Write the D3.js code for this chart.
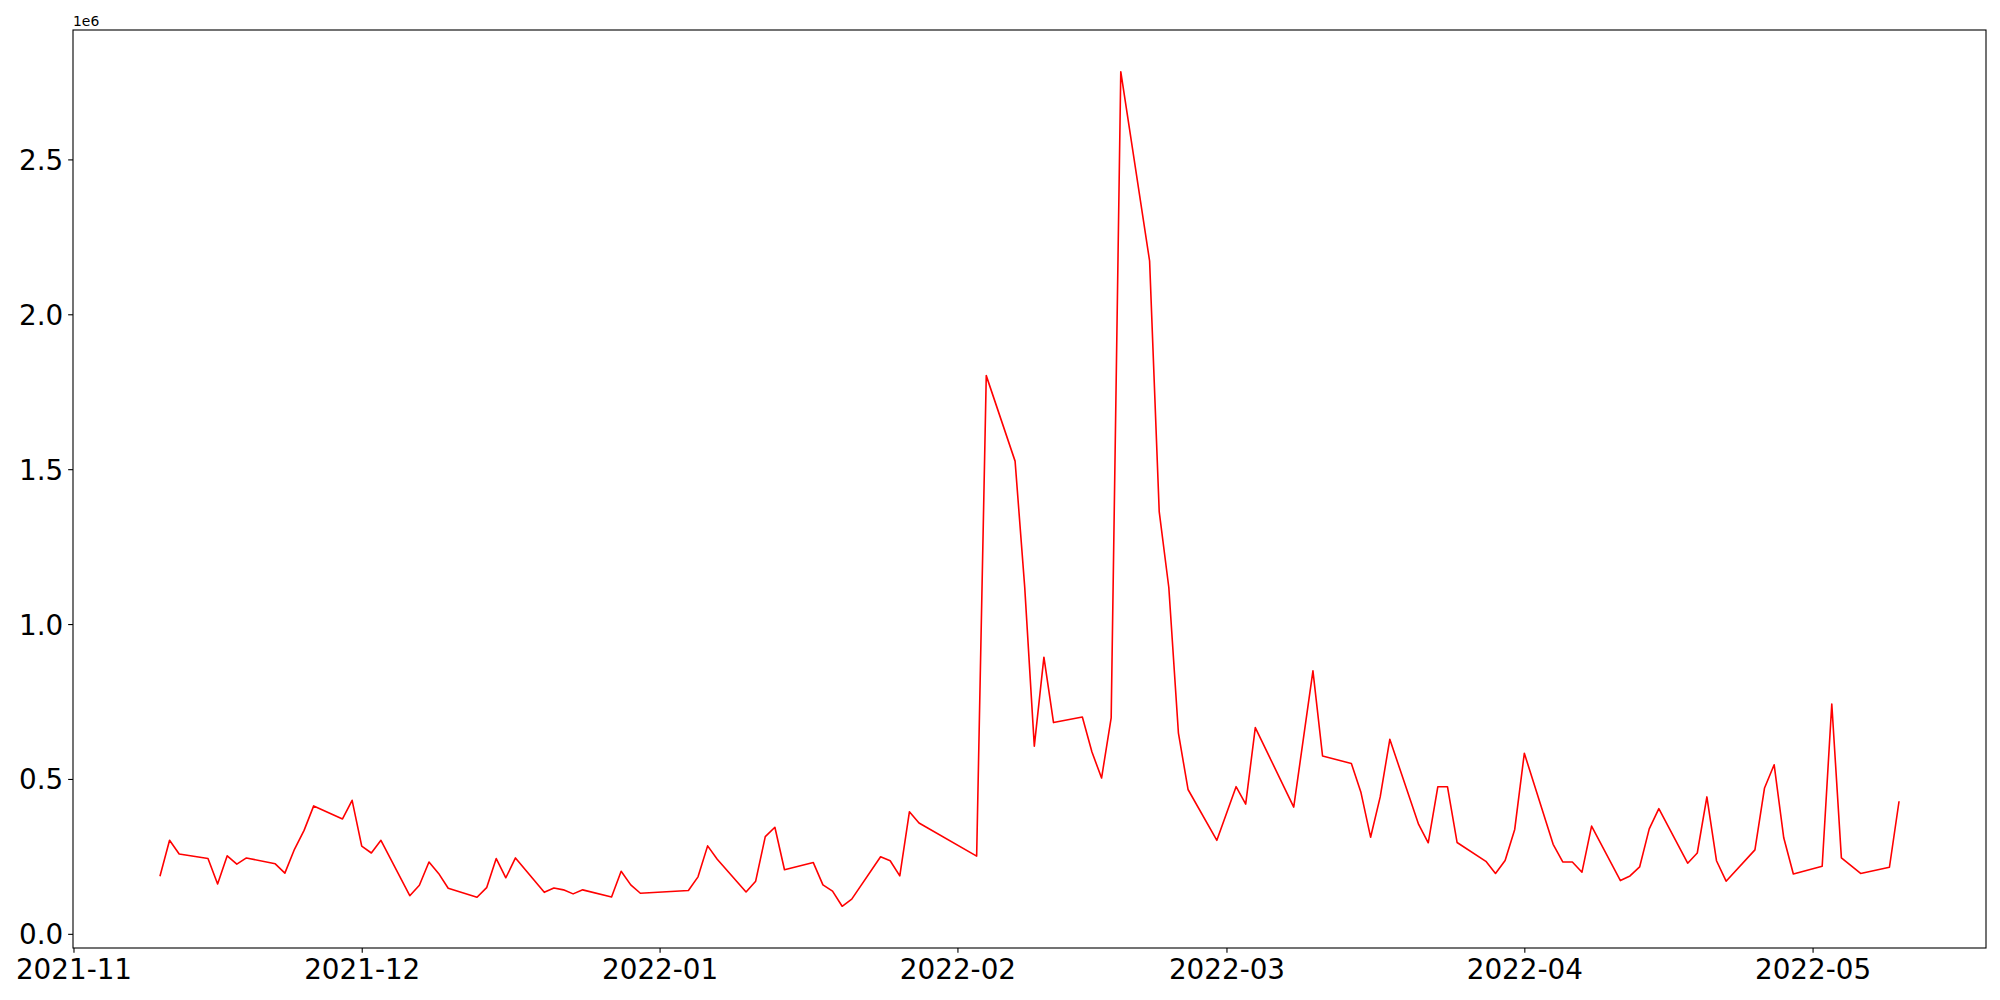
<!DOCTYPE html>
<html>
<head>
<meta charset="utf-8">
<script src="https://cdn.jsdelivr.net/npm/d3@7"></script>
<style>
  body { margin: 0; background: #fff; }
  svg { display: block; font-family: 'DejaVu Sans', sans-serif; }
</style>
</head>
<body>
<svg></svg>
<script>
// daily values (in units of 1e6), one per trading day
let dates = [
  '2021-11-10','2021-11-11','2021-11-12','2021-11-15','2021-11-16','2021-11-17','2021-11-18','2021-11-19',
  '2021-11-22','2021-11-23','2021-11-24','2021-11-25','2021-11-26','2021-11-29','2021-11-30',
  '2021-12-01','2021-12-02','2021-12-03','2021-12-06','2021-12-07','2021-12-08','2021-12-09','2021-12-10',
  '2021-12-13','2021-12-14','2021-12-15','2021-12-16','2021-12-17','2021-12-20','2021-12-21','2021-12-22',
  '2021-12-23','2021-12-24','2021-12-27','2021-12-28','2021-12-29','2021-12-30',
  '2022-01-04','2022-01-05','2022-01-06','2022-01-07','2022-01-10','2022-01-11','2022-01-12','2022-01-13',
  '2022-01-14','2022-01-17','2022-01-18','2022-01-19','2022-01-20','2022-01-21','2022-01-24','2022-01-25',
  '2022-01-26','2022-01-27','2022-01-28',
  '2022-02-03','2022-02-04','2022-02-07','2022-02-08','2022-02-09','2022-02-10','2022-02-11','2022-02-14',
  '2022-02-15','2022-02-16','2022-02-17','2022-02-18','2022-02-21','2022-02-22','2022-02-23','2022-02-24',
  '2022-02-25','2022-02-28',
  '2022-03-02','2022-03-03','2022-03-04','2022-03-08','2022-03-10','2022-03-11','2022-03-14','2022-03-15',
  '2022-03-16','2022-03-17','2022-03-18','2022-03-21','2022-03-22','2022-03-23','2022-03-24','2022-03-25',
  '2022-03-28','2022-03-29','2022-03-30','2022-03-31',
  '2022-04-01','2022-04-04','2022-04-05','2022-04-06','2022-04-07','2022-04-08','2022-04-11','2022-04-12',
  '2022-04-13','2022-04-14','2022-04-15','2022-04-18','2022-04-19','2022-04-20','2022-04-21','2022-04-22',
  '2022-04-25','2022-04-26','2022-04-27','2022-04-28','2022-04-29',
  '2022-05-02','2022-05-03','2022-05-04','2022-05-06','2022-05-09','2022-05-10'
]

let values = [
  0.186,0.302,0.258,0.243,0.161,0.252,0.225,0.245,
  0.226,0.196,0.273,0.334,0.413,0.371,0.431,
  0.283,0.261,0.302,0.123,0.157,0.232,0.195,0.147,
  0.118,0.149,0.243,0.181,0.245,0.134,0.148,0.142,
  0.129,0.142,0.119,0.202,0.158,0.131,
  0.140,0.184,0.284,0.241,0.135,0.170,0.314,0.344,
  0.207,0.230,0.158,0.138,0.089,0.112,0.249,0.236,
  0.187,0.394,0.358,
  0.251,1.802,1.526,1.120,0.606,0.893,0.682,0.700,
  0.587,0.503,0.697,2.783,2.172,1.363,1.118,0.648,
  0.466,0.302,
  0.475,0.419,0.666,0.409,0.849,0.574,0.550,0.456,
  0.312,0.442,0.628,0.353,0.294,0.475,0.475,0.295,
  0.234,0.195,0.237,0.337,
  0.583,0.289,0.232,0.232,0.199,0.348,0.172,0.187,
  0.216,0.339,0.404,0.228,0.261,0.442,0.236,0.170,
  0.271,0.471,0.546,0.310,0.193,
  0.218,0.742,0.245,0.195,0.215,0.428
].map(v => v * 1e6)

let xTickDates = ['2021-11-01','2021-12-01','2022-01-01','2022-02-01','2022-03-01','2022-04-01','2022-05-01']
let yTicks = [0, 0.5e6, 1.0e6, 1.5e6, 2.0e6, 2.5e6]

let width = 2000
let height = 1000
let plotLeft = 73
let plotRight = 1986
let plotTop = 30
let plotBottom = 948

let parse = d3.timeParse('%Y-%m-%d')
let data = dates.map((d, i) => ({ date: parse(d), value: values[i] }))

let svg = d3.select('svg')
    .attr('width', width)
    .attr('height', height)

// matplotlib style 5% margins around the data
let xExt = d3.extent(data, d => d.date.getTime())
let xPad = (xExt[1] - xExt[0]) * 0.05
let xScale = d3.scaleTime()
    .domain([new Date(xExt[0] - xPad), new Date(xExt[1] + xPad)])
    .range([plotLeft, plotRight])

let yExt = d3.extent(data, d => d.value)
let yPad = (yExt[1] - yExt[0]) * 0.05
let yScale = d3.scaleLinear()
    .domain([yExt[0] - yPad, yExt[1] + yPad])
    .range([plotBottom, plotTop])

let line = d3.line()
    .x(d => xScale(d.date))
    .y(d => yScale(d.value))

svg.append('path')
   .datum(data)
   .attr('d', line)
   .attr('fill', 'none')
   .attr('stroke', 'red')
   .attr('stroke-width', 1.6)
   .attr('stroke-linejoin', 'round')

let xAxis = d3.axisBottom(xScale)
    .tickValues(xTickDates.map(parse))
    .tickFormat(d3.timeFormat('%Y-%m'))
    .tickSize(4.86)
    .tickPadding(4.86)

let yAxis = d3.axisLeft(yScale)
    .tickValues(yTicks)
    .tickFormat(d => (d / 1e6).toFixed(1))
    .tickSize(4.86)
    .tickPadding(4.86)

let gx = svg.append('g')
   .attr('transform', 'translate(0,' + plotBottom + ')')
   .call(xAxis)

let gy = svg.append('g')
   .attr('transform', 'translate(' + plotLeft + ',0)')
   .call(yAxis)

for (let g of [gx, gy]) {
    g.select('.domain').remove()
    g.selectAll('line').attr('stroke', '#000').attr('stroke-width', 1.1)
    g.selectAll('text')
     .attr('fill', '#000')
     .style('font-family', "'DejaVu Sans', sans-serif")
     .style('font-size', '27.8px')
}
gx.selectAll('text').attr('dy', '0.78em')
gy.selectAll('text').attr('dy', '0.36em')

svg.append('rect')
   .attr('x', plotLeft)
   .attr('y', plotTop)
   .attr('width', plotRight - plotLeft)
   .attr('height', plotBottom - plotTop)
   .attr('fill', 'none')
   .attr('stroke', '#000')
   .attr('stroke-width', 1.1)

svg.append('text')
   .text('1e6')
   .attr('x', plotLeft)
   .attr('y', plotTop - 4)
   .style('font-size', '13.9px')
   .attr('fill', '#000')
</script>
</body>
</html>
